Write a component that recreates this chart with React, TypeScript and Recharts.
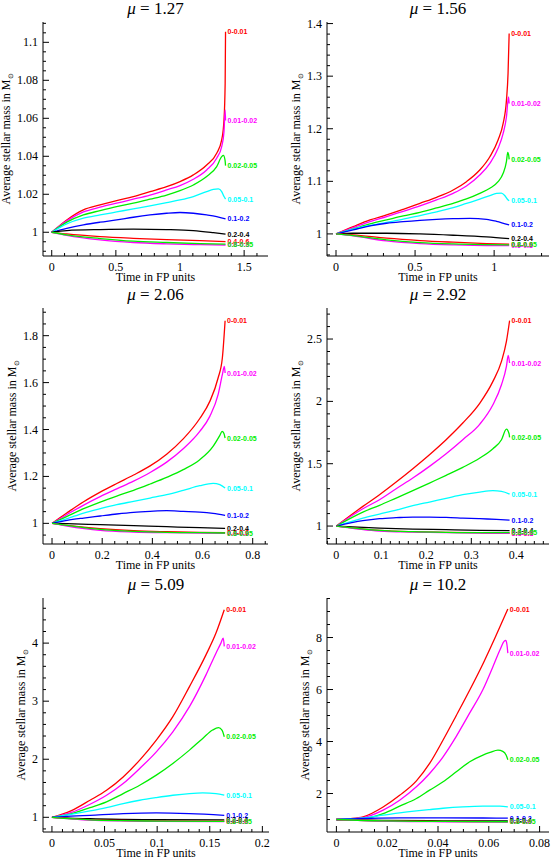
import { LineChart, Line, XAxis, YAxis } from 'recharts';

type Pt = [number, number];

const SHELLS = ['0-0.01', '0.01-0.02', '0.02-0.05', '0.05-0.1', '0.1-0.2', '0.2-0.4', '0.4-0.6', '0.6-0.8', '0.8-0.95'];
const COLORS = ['#ff0000', '#ff00ff', '#00ee00', '#00ffff', '#0000ff', '#000000', '#ff0000', '#ff00ff', '#00ee00'];

// mu = 1.27  (time, average mass)
const p127_0: Pt[] = [[0, 1], [0.117, 1.0065], [0.247, 1.0118], [0.377, 1.0144], [0.506, 1.0167], [0.636, 1.0188], [0.766, 1.0214], [0.896, 1.024], [1.0, 1.0267], [1.104, 1.0302], [1.208, 1.0354], [1.286, 1.0416], [1.325, 1.0486], [1.343, 1.0591], [1.352, 1.0784], [1.355, 1.1056]];
const p127_1: Pt[] = [[0, 1], [0.117, 1.006], [0.247, 1.0107], [0.377, 1.0132], [0.506, 1.0153], [0.636, 1.0174], [0.766, 1.0196], [0.896, 1.0223], [1.0, 1.0246], [1.104, 1.0279], [1.208, 1.0328], [1.286, 1.039], [1.325, 1.0451], [1.343, 1.053], [1.352, 1.0644], [1.355, 1.0588]];
const p127_2: Pt[] = [[0, 1], [0.117, 1.0053], [0.247, 1.0091], [0.377, 1.0114], [0.506, 1.0135], [0.636, 1.0153], [0.766, 1.0174], [0.896, 1.0196], [1.0, 1.0219], [1.104, 1.0249], [1.208, 1.0293], [1.286, 1.0346], [1.325, 1.0398], [1.338, 1.0405], [1.351, 1.038], [1.355, 1.0351]];
const p127_3: Pt[] = [[0, 1], [0.117, 1.0044], [0.247, 1.0074], [0.377, 1.0091], [0.506, 1.0107], [0.636, 1.0123], [0.766, 1.0139], [0.896, 1.0156], [1.0, 1.017], [1.104, 1.0188], [1.208, 1.0214], [1.26, 1.0226], [1.299, 1.0228], [1.325, 1.0214], [1.343, 1.0188], [1.355, 1.0175]];
const p127_4: Pt[] = [[0, 1], [0.117, 1.0021], [0.247, 1.0039], [0.377, 1.0053], [0.506, 1.0065], [0.636, 1.0079], [0.766, 1.0091], [0.896, 1.01], [1.0, 1.0104], [1.104, 1.01], [1.208, 1.0091], [1.286, 1.0082], [1.355, 1.007]];
const p127_5: Pt[] = [[0, 1], [0.117, 1.0009], [0.377, 1.0014], [0.636, 1.0016], [0.896, 1.0014], [1.104, 1.0009], [1.26, 0.9998], [1.355, 0.999]];
const p127_6: Pt[] = [[0, 1], [0.117, 0.9991], [0.377, 0.9977], [0.636, 0.9968], [0.896, 0.9961], [1.156, 0.9956], [1.355, 0.9951]];
const p127_7: Pt[] = [[0, 1], [0.117, 0.9984], [0.377, 0.996], [0.636, 0.9946], [0.896, 0.9939], [1.156, 0.9935], [1.355, 0.9933]];
const p127_8: Pt[] = [[0, 1], [0.117, 0.9986], [0.377, 0.9967], [0.636, 0.9953], [0.896, 0.9946], [1.156, 0.994], [1.355, 0.9937]];

// mu = 1.56
const p156_0: Pt[] = [[0, 1], [0.109, 1.0139], [0.215, 1.0266], [0.32, 1.0361], [0.425, 1.0468], [0.531, 1.0582], [0.636, 1.0696], [0.741, 1.0835], [0.825, 1.0994], [0.909, 1.1215], [0.973, 1.1468], [1.025, 1.1785], [1.057, 1.2101], [1.078, 1.2544], [1.088, 1.3051], [1.095, 1.381]];
const p156_1: Pt[] = [[0, 1], [0.109, 1.012], [0.215, 1.0234], [0.32, 1.0329], [0.425, 1.043], [0.531, 1.0532], [0.636, 1.0646], [0.741, 1.0772], [0.825, 1.0911], [0.909, 1.112], [0.973, 1.1342], [1.025, 1.1627], [1.057, 1.1911], [1.078, 1.2228], [1.091, 1.2608], [1.095, 1.248]];
const p156_2: Pt[] = [[0, 1], [0.109, 1.0095], [0.215, 1.019], [0.32, 1.0266], [0.425, 1.0342], [0.531, 1.0411], [0.636, 1.0494], [0.741, 1.0582], [0.825, 1.0665], [0.909, 1.0772], [0.973, 1.0867], [1.025, 1.0994], [1.057, 1.1152], [1.078, 1.138], [1.086, 1.155], [1.092, 1.15], [1.095, 1.1418]];
const p156_3: Pt[] = [[0, 1], [0.109, 1.009], [0.215, 1.016], [0.32, 1.022], [0.425, 1.028], [0.531, 1.035], [0.636, 1.042], [0.741, 1.05], [0.825, 1.058], [0.909, 1.066], [0.973, 1.073], [1.015, 1.077], [1.046, 1.0775], [1.067, 1.073], [1.084, 1.066], [1.095, 1.063]];
const p156_4: Pt[] = [[0, 1], [0.109, 1.0076], [0.215, 1.0152], [0.32, 1.0203], [0.425, 1.0234], [0.531, 1.0259], [0.636, 1.0278], [0.741, 1.0291], [0.846, 1.0297], [0.952, 1.0278], [1.015, 1.024], [1.095, 1.0171]];
const p156_5: Pt[] = [[0, 1], [0.109, 1.0013], [0.32, 1.0013], [0.531, 1.0], [0.741, 0.9975], [0.952, 0.9943], [1.095, 0.9911]];
const p156_6: Pt[] = [[0, 1], [0.109, 0.9981], [0.32, 0.9918], [0.531, 0.9873], [0.741, 0.9842], [0.952, 0.9816], [1.095, 0.9804]];
const p156_7: Pt[] = [[0, 1], [0.109, 0.9962], [0.32, 0.9867], [0.531, 0.9816], [0.741, 0.9791], [0.952, 0.9778], [1.095, 0.9778]];
const p156_8: Pt[] = [[0, 1], [0.109, 0.9968], [0.32, 0.9886], [0.531, 0.9835], [0.741, 0.981], [0.952, 0.9797], [1.095, 0.9791]];

// mu = 2.06
const p206_0: Pt[] = [[0, 1], [0.06, 1.045], [0.126, 1.092], [0.192, 1.133], [0.258, 1.17], [0.325, 1.206], [0.391, 1.245], [0.457, 1.295], [0.523, 1.36], [0.589, 1.447], [0.629, 1.52], [0.662, 1.6195], [0.679, 1.7048], [0.69, 1.864]];
const p206_1: Pt[] = [[0, 1], [0.06, 1.038], [0.126, 1.078], [0.192, 1.114], [0.258, 1.147], [0.325, 1.18], [0.391, 1.217], [0.457, 1.261], [0.523, 1.318], [0.589, 1.392], [0.629, 1.4561], [0.662, 1.5485], [0.679, 1.6337], [0.687, 1.669], [0.69, 1.6408]];
const p206_2: Pt[] = [[0, 1], [0.06, 1.03], [0.126, 1.0625], [0.192, 1.0909], [0.258, 1.1165], [0.325, 1.1407], [0.391, 1.1677], [0.457, 1.1961], [0.523, 1.2288], [0.589, 1.2714], [0.642, 1.3282], [0.669, 1.3751], [0.678, 1.3922], [0.685, 1.3837], [0.69, 1.3638]];
const p206_3: Pt[] = [[0, 1], [0.06, 1.0199], [0.126, 1.044], [0.192, 1.0625], [0.258, 1.0796], [0.325, 1.0938], [0.391, 1.108], [0.457, 1.1222], [0.523, 1.1407], [0.589, 1.1606], [0.642, 1.1705], [0.669, 1.1648], [0.69, 1.1506]];
const p206_4: Pt[] = [[0, 1], [0.06, 1.0128], [0.126, 1.0227], [0.192, 1.0313], [0.258, 1.0398], [0.325, 1.0469], [0.391, 1.0512], [0.457, 1.054], [0.523, 1.0512], [0.589, 1.0483], [0.642, 1.0426], [0.69, 1.0341]];
const p206_5: Pt[] = [[0, 1], [0.06, 0.9986], [0.192, 0.9943], [0.325, 0.9901], [0.457, 0.9858], [0.589, 0.9815], [0.69, 0.9787]];
const p206_6: Pt[] = [[0, 1], [0.06, 0.9915], [0.192, 0.9773], [0.325, 0.9687], [0.457, 0.9645], [0.589, 0.9616], [0.69, 0.9602]];
const p206_7: Pt[] = [[0, 1], [0.06, 0.9886], [0.192, 0.9702], [0.325, 0.9631], [0.457, 0.9602], [0.589, 0.9588], [0.69, 0.9574]];
const p206_8: Pt[] = [[0, 1], [0.06, 0.9915], [0.192, 0.9744], [0.325, 0.9659], [0.457, 0.9616], [0.589, 0.9602], [0.69, 0.9588]];

// mu = 2.92
const p292_0: Pt[] = [[0, 1], [0.059, 1.1578], [0.096, 1.2513], [0.133, 1.3529], [0.17, 1.4599], [0.207, 1.5722], [0.244, 1.6925], [0.281, 1.8262], [0.319, 1.9866], [0.348, 2.1604], [0.367, 2.3209], [0.378, 2.4813], [0.385, 2.647]];
const p292_1: Pt[] = [[0, 1], [0.059, 1.139], [0.096, 1.2112], [0.133, 1.2995], [0.17, 1.385], [0.207, 1.4786], [0.244, 1.5802], [0.281, 1.6925], [0.319, 1.8182], [0.348, 1.9733], [0.367, 2.1337], [0.378, 2.2807], [0.382, 2.369], [0.385, 2.3075]];
const p292_2: Pt[] = [[0, 1], [0.059, 1.1123], [0.096, 1.1658], [0.133, 1.2246], [0.17, 1.2834], [0.207, 1.3449], [0.244, 1.4064], [0.281, 1.4706], [0.319, 1.5455], [0.348, 1.6203], [0.367, 1.6925], [0.378, 1.778], [0.384, 1.738], [0.385, 1.7112]];
const p292_3: Pt[] = [[0, 1], [0.059, 1.0642], [0.096, 1.0963], [0.133, 1.1283], [0.17, 1.1631], [0.207, 1.1925], [0.244, 1.2219], [0.281, 1.2513], [0.319, 1.2727], [0.348, 1.2834], [0.367, 1.2781], [0.385, 1.2567]];
const p292_4: Pt[] = [[0, 1], [0.059, 1.0428], [0.096, 1.0588], [0.133, 1.0668], [0.17, 1.0722], [0.207, 1.0722], [0.244, 1.0695], [0.281, 1.0642], [0.319, 1.0588], [0.356, 1.0535], [0.385, 1.0481]];
const p292_5: Pt[] = [[0, 1], [0.096, 0.984], [0.17, 0.976], [0.244, 0.9706], [0.319, 0.9652], [0.385, 0.9626]];
const p292_6: Pt[] = [[0, 1], [0.096, 0.9652], [0.17, 0.9545], [0.244, 0.9492], [0.319, 0.9465], [0.385, 0.9439]];
const p292_7: Pt[] = [[0, 1], [0.096, 0.9599], [0.17, 0.9519], [0.244, 0.9465], [0.319, 0.9439], [0.385, 0.9412]];
const p292_8: Pt[] = [[0, 1], [0.096, 0.9652], [0.17, 0.9545], [0.244, 0.9492], [0.319, 0.9465], [0.385, 0.9465]];

// mu = 5.09
const p509_0: Pt[] = [[0, 1], [0.018, 1.11], [0.0362, 1.294], [0.0519, 1.466], [0.0677, 1.696], [0.0834, 1.985], [0.0992, 2.33], [0.1149, 2.733], [0.1307, 3.251], [0.1464, 3.798], [0.1559, 4.173], [0.1638, 4.576]];
const p509_1: Pt[] = [[0, 1], [0.018, 1.08], [0.0362, 1.225], [0.0519, 1.38], [0.0677, 1.582], [0.0834, 1.841], [0.0992, 2.128], [0.1149, 2.473], [0.1307, 2.905], [0.1464, 3.453], [0.1559, 3.827], [0.1606, 4.0], [0.1628, 4.087], [0.1638, 3.943]];
const p509_2: Pt[] = [[0, 1], [0.018, 1.06], [0.0362, 1.167], [0.0519, 1.265], [0.0677, 1.409], [0.0834, 1.553], [0.0992, 1.726], [0.1149, 1.927], [0.1307, 2.157], [0.1433, 2.359], [0.1527, 2.503], [0.1584, 2.543], [0.1616, 2.503], [0.1638, 2.387]];
const p509_3: Pt[] = [[0, 1], [0.018, 1.05], [0.0362, 1.109], [0.0519, 1.167], [0.0677, 1.236], [0.0834, 1.294], [0.0992, 1.34], [0.1149, 1.38], [0.1307, 1.409], [0.1433, 1.42], [0.1559, 1.409], [0.1638, 1.38]];
const p509_4: Pt[] = [[0, 1], [0.018, 1.02], [0.0362, 1.035], [0.0677, 1.063], [0.0992, 1.075], [0.1307, 1.063], [0.1638, 1.035]];
const p509_5: Pt[] = [[0, 1], [0.0362, 0.975], [0.0677, 0.965], [0.0992, 0.96], [0.1638, 0.955]];
const p509_6: Pt[] = [[0, 1], [0.0362, 0.96], [0.0677, 0.945], [0.0992, 0.938], [0.1638, 0.933]];
const p509_7: Pt[] = [[0, 1], [0.0362, 0.952], [0.0677, 0.937], [0.0992, 0.93], [0.1638, 0.925]];
const p509_8: Pt[] = [[0, 1], [0.0362, 0.957], [0.0677, 0.942], [0.0992, 0.935], [0.1638, 0.93]];

// mu = 10.2
const p102_0: Pt[] = [[0, 1], [0.0052, 1.03], [0.0105, 1.1], [0.0184, 1.48], [0.0249, 1.93], [0.0315, 2.488], [0.0367, 3.157], [0.042, 4.057], [0.0472, 5.0], [0.0525, 5.98], [0.058, 7.05], [0.0625, 8.0], [0.0675, 9.095]];
const p102_1: Pt[] = [[0, 1], [0.0105, 1.075], [0.0184, 1.36], [0.0249, 1.743], [0.0315, 2.257], [0.0367, 2.771], [0.042, 3.414], [0.0472, 4.2], [0.0525, 5.1], [0.0577, 6.0], [0.0615, 6.85], [0.0645, 7.55], [0.066, 7.85], [0.0667, 7.887], [0.0671, 7.75], [0.0675, 7.4]];
const p102_2: Pt[] = [[0, 1], [0.0105, 1.036], [0.0184, 1.229], [0.0249, 1.512], [0.0315, 1.807], [0.0367, 2.129], [0.042, 2.45], [0.0472, 2.835], [0.0525, 3.221], [0.0577, 3.478], [0.0605, 3.58], [0.0636, 3.67], [0.0655, 3.62], [0.0668, 3.48], [0.0675, 3.3]];
const p102_3: Pt[] = [[0, 1], [0.0105, 1.06], [0.0184, 1.165], [0.0249, 1.254], [0.0315, 1.33], [0.0367, 1.383], [0.042, 1.434], [0.0498, 1.486], [0.0577, 1.512], [0.0643, 1.512], [0.0675, 1.49]];
const p102_4: Pt[] = [[0, 1], [0.0105, 1.04], [0.0249, 1.06], [0.042, 1.065], [0.0577, 1.058], [0.0675, 1.05]];
const p102_5: Pt[] = [[0, 1], [0.0184, 0.97], [0.042, 0.95], [0.0675, 0.945]];
const p102_6: Pt[] = [[0, 1], [0.0184, 0.95], [0.042, 0.93], [0.0675, 0.92]];
const p102_7: Pt[] = [[0, 1], [0.0184, 0.94], [0.042, 0.915], [0.0675, 0.905]];
const p102_8: Pt[] = [[0, 1], [0.0184, 0.945], [0.042, 0.925], [0.0675, 0.915]];

// axis tick labels
const X127 = [0, 0.5, 1, 1.5];
const Y127 = [1, 1.02, 1.04, 1.06, 1.08, 1.1];
const X156 = [0, 0.5, 1];
const Y156 = [1, 1.1, 1.2, 1.3, 1.4];
const X206 = [0, 0.2, 0.4, 0.6, 0.8];
const Y206 = [1, 1.2, 1.4, 1.6, 1.8];
const X292 = [0, 0.1, 0.2, 0.3, 0.4];
const Y292 = [1, 1.5, 2, 2.5];
const X509 = [0, 0.05, 0.1, 0.15, 0.2];
const Y509 = [1, 2, 3, 4];
const X102 = [0, 0.02, 0.04, 0.06, 0.08];
const Y102 = [2, 4, 6, 8];

const PANELS = [
  { mu: '1.27', box: [43, 22, 268, 256], xDom: [-0.068, 1.686], yDom: [0.9875, 1.1107], xMaj: X127, yMaj: Y127, xMin: 0.1, yMin: 0.005, yLab: 37,
    series: [p127_0, p127_1, p127_2, p127_3, p127_4, p127_5, p127_6, p127_7, p127_8] },
  { mu: '1.56', box: [327, 22, 549, 256], xDom: [-0.057, 1.347], yDom: [0.958, 1.403], xMaj: X156, yMaj: Y156, xMin: 0.1, yMin: 0.02, yLab: 31,
    series: [p156_0, p156_1, p156_2, p156_3, p156_4, p156_5, p156_6, p156_7, p156_8] },
  { mu: '2.06', box: [43, 308, 268, 544], xDom: [-0.036, 0.861], yDom: [0.912, 1.918], xMaj: X206, yMaj: Y206, xMin: 0.05, yMin: 0.05, yLab: 31,
    series: [p206_0, p206_1, p206_2, p206_3, p206_4, p206_5, p206_6, p206_7, p206_8] },
  { mu: '2.92', box: [327, 308, 549, 544], xDom: [-0.0207, 0.4726], yDom: [0.856, 2.749], xMaj: X292, yMaj: Y292, xMin: 0.02, yMin: 0.1, yLab: 31,
    series: [p292_0, p292_1, p292_2, p292_3, p292_4, p292_5, p292_6, p292_7, p292_8] },
  { mu: '5.09', box: [43, 598, 269, 832], xDom: [-0.0085, 0.2063], yDom: [0.747, 4.777], xMaj: X509, yMaj: Y509, xMin: 0.01, yMin: 0.2, yLab: 22,
    series: [p509_0, p509_1, p509_2, p509_3, p509_4, p509_5, p509_6, p509_7, p509_8] },
  { mu: '10.2', box: [327, 598, 549, 832], xDom: [-0.0037, 0.0837], yDom: [0.52, 9.52], xMaj: X102, yMaj: Y102, xMin: 0.005, yMin: 0.5, yLab: 22,
    series: [p102_0, p102_1, p102_2, p102_3, p102_4, p102_5, p102_6, p102_7, p102_8] },
];

const SERIF = '"Liberation Serif", "Times New Roman", Times, serif';

function minorTicks(dom: number[], step: number) {
  const out: number[] = [];
  const start = Math.ceil(dom[0] / step - 1e-9);
  const end = Math.floor(dom[1] / step + 1e-9);
  for (let i = start; i <= end; i++) out.push(+(i * step).toFixed(6));
  return out;
}

const isMajor = (v: number, maj: number[], step: number) => maj.some(m => Math.abs(m - v) < step * 0.01);
const fmt = (v: number) => String(+v.toFixed(4));

function Panel({ p }: { p: typeof PANELS[number] }) {
  const [L, T, R, B] = p.box;
  const W = R - L, H = B - T;
  const padL = 50, padT = 5, padR = 5, padB = 40;
  const xt = minorTicks(p.xDom, p.xMin);
  const yt = minorTicks(p.yDom, p.yMin);
  const MAJ = 6, MIN = 3;

  const bottomTick = (props: any) => {
    const { x, y, payload } = props;
    const maj = isMajor(payload.value, p.xMaj, p.xMin);
    return (
      <g>
        <line x1={x} x2={x} y1={y} y2={y - (maj ? MAJ : MIN)} stroke="#000" />
        {maj && (
          <text x={x} y={y + 15} textAnchor="middle" fontFamily={SERIF} fontSize={12} fill="#000">{fmt(payload.value)}</text>
        )}
      </g>
    );
  };
  const topTick = (props: any) => {
    const { x, y, payload } = props;
    const maj = isMajor(payload.value, p.xMaj, p.xMin);
    return <line x1={x} x2={x} y1={y} y2={y + (maj ? MAJ : MIN)} stroke="#000" />;
  };
  const leftTick = (props: any) => {
    const { x, y, payload } = props;
    const maj = isMajor(payload.value, p.yMaj, p.yMin);
    return (
      <g>
        <line x1={x} x2={x + (maj ? MAJ : MIN)} y1={y} y2={y} stroke="#000" />
        {maj && (
          <text x={x - 5} y={y + 4} textAnchor="end" fontFamily={SERIF} fontSize={12} fill="#000">{fmt(payload.value)}</text>
        )}
      </g>
    );
  };
  const rightTick = (props: any) => {
    const { x, y, payload } = props;
    const maj = isMajor(payload.value, p.yMaj, p.yMin);
    return <line x1={x} x2={x - (maj ? MAJ : MIN)} y1={y} y2={y} stroke="#000" />;
  };

  return (
    <>
      <div style={{ position: 'absolute', left: L, top: T - 23, width: W, textAlign: 'center', fontFamily: SERIF, fontSize: 17, fontWeight: 'normal', lineHeight: '20px' }}>
        <i>μ</i> = {p.mu}
      </div>
      <div style={{ position: 'absolute', left: L - p.yLab - 100, top: (T + B) / 2 - 8, width: 200, height: 16, lineHeight: '16px', textAlign: 'center', transform: 'rotate(-90deg)', fontFamily: SERIF, fontSize: 12, whiteSpace: 'nowrap' }}>
        Average stellar mass in M<span style={{ fontSize: 7, position: 'relative', top: 3 }}>⊙</span>
      </div>
      <div style={{ position: 'absolute', left: L, top: B + 13, width: W, textAlign: 'center', fontFamily: SERIF, fontSize: 12, lineHeight: '16px' }}>
        Time in FP units
      </div>
      <div style={{ position: 'absolute', left: L - padL, top: T - padT }}>
        <LineChart width={W + padL + padR} height={H + padT + padB} margin={{ top: padT, right: padR, bottom: 0, left: 0 }}>
          <XAxis xAxisId="b" dataKey="t" type="number" domain={p.xDom} ticks={xt} interval={0} height={padB}
            tickSize={0} tickMargin={0} tickLine={false} tick={bottomTick} axisLine={{ stroke: '#000' }} />
          <XAxis xAxisId="t" orientation="top" dataKey="t" type="number" domain={p.xDom} ticks={xt} interval={0} height={0}
            tickSize={0} tickMargin={0} tickLine={false} tick={topTick} axisLine={{ stroke: '#000' }} />
          <YAxis yAxisId="l" type="number" domain={p.yDom} ticks={yt} interval={0} width={padL}
            tickSize={0} tickMargin={0} tickLine={false} tick={leftTick} axisLine={{ stroke: '#000' }} />
          <YAxis yAxisId="r" orientation="right" type="number" domain={p.yDom} ticks={yt} interval={0} width={0}
            tickSize={0} tickMargin={0} tickLine={false} tick={rightTick} axisLine={{ stroke: '#000' }} />
          {p.series.map((s, i) => {
            const data = s.map(([t, m]) => ({ t, m }));
            const last = data.length - 1;
            return (
              <Line
                key={SHELLS[i]}
                xAxisId="b"
                yAxisId="l"
                data={data}
                dataKey="m"
                type="monotone"
                stroke={COLORS[i]}
                strokeWidth={1.3}
                isAnimationActive={false}
                activeDot={false}
                dot={(d: any) =>
                  d.index === last ? (
                    <text key={`lab${i}`} x={d.cx + 2} y={d.cy + 2.5} fontFamily='"Liberation Sans", sans-serif' fontWeight="bold" fontSize={7} fill={COLORS[i]}>
                      {SHELLS[i]}
                    </text>
                  ) : (
                    <g key={`d${i}-${d.index}`} />
                  )
                }
              />
            );
          })}
        </LineChart>
      </div>
    </>
  );
}

export default function App() {
  return (
    <div style={{ position: 'absolute', left: 0, top: 0, width: 555, height: 857, background: '#fff' }}>
      {PANELS.map(p => <Panel key={p.mu} p={p} />)}
    </div>
  );
}
